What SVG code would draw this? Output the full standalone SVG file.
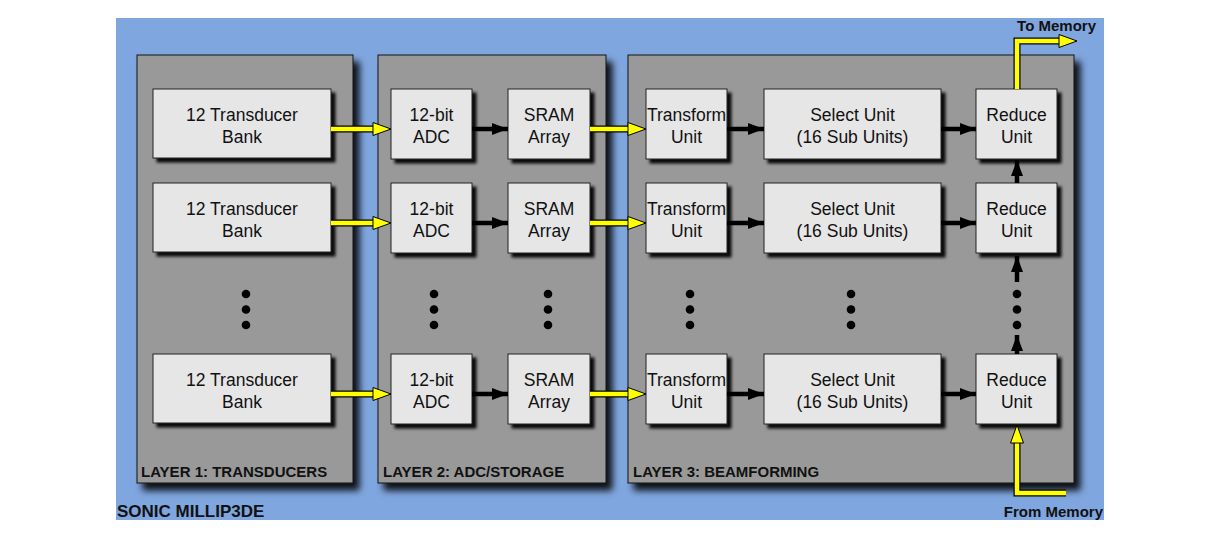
<svg xmlns="http://www.w3.org/2000/svg" width="1230" height="544" viewBox="0 0 1230 544">
<defs>
<filter id="pshadow" x="-10%" y="-10%" width="130%" height="130%">
<feDropShadow dx="6" dy="7" stdDeviation="3.5" flood-color="#000" flood-opacity="0.9"/>
</filter>
<filter id="bshadow" x="-10%" y="-10%" width="130%" height="130%">
<feDropShadow dx="4" dy="4" stdDeviation="1.5" flood-color="#000" flood-opacity="0.95"/>
</filter>
<marker id="ah" markerUnits="userSpaceOnUse" markerWidth="18" markerHeight="14" refX="16" refY="6" orient="auto">
<path d="M0,0 L16,6 L0,12 z" fill="#000"/>
</marker>
</defs>
<style>
.panel{fill:#999999;stroke:#111;stroke-width:1;filter:url(#pshadow)}
.box{fill:#e6e6e6;stroke:#222;stroke-width:1;filter:url(#bshadow)}
.t{font-family:"Liberation Sans",Arial,sans-serif;font-size:17.5px;fill:#111;text-anchor:middle}
.lbl{font-family:"Liberation Sans",Arial,sans-serif;font-size:15px;font-weight:bold;fill:#111}
.title{font-family:"Liberation Sans",Arial,sans-serif;font-size:17px;font-weight:bold;fill:#111}
.blk{stroke:#000;stroke-width:4.5;fill:none;marker-end:url(#ah)}
.yo{stroke:#000;stroke-width:7;fill:none;stroke-linejoin:miter}
.yi{stroke:#ffff00;stroke-width:4.5;fill:none;stroke-linejoin:miter}
.yh{fill:#ffff00;stroke:#000;stroke-width:1}
.dot{fill:#000}
</style>
<rect x="0" y="0" width="1230" height="544" fill="#fff"/>
<rect x="116" y="18" width="988" height="502" fill="#80a6df"/>

<g id="layer1"><rect class="panel" x="137" y="55" width="216" height="428"/><text class="lbl" x="141" y="477">LAYER 1: TRANSDUCERS</text></g>
<g id="layer2"><rect class="panel" x="378" y="55" width="228" height="428"/><text class="lbl" x="383" y="477">LAYER 2: ADC/STORAGE</text></g>
<g id="layer3"><rect class="panel" x="628" y="55" width="446" height="428"/><text class="lbl" x="633" y="477">LAYER 3: BEAMFORMING</text></g>
<g id="title"><text class="title" x="117" y="517">SONIC MILLIP3DE</text></g>

<g id="tb1"><rect class="box" x="153" y="89" width="178" height="69"/><text class="t" x="242" y="121">12 Transducer</text><text class="t" x="242" y="143">Bank</text></g>
<g id="tb2"><rect class="box" x="153" y="183" width="178" height="69"/><text class="t" x="242" y="215">12 Transducer</text><text class="t" x="242" y="237">Bank</text></g>
<g id="tb3"><rect class="box" x="153" y="354" width="178" height="69"/><text class="t" x="242" y="386">12 Transducer</text><text class="t" x="242" y="408">Bank</text></g>

<g id="adc1"><rect class="box" x="391" y="89" width="81" height="70"/><text class="t" x="431.5" y="121">12-bit</text><text class="t" x="431.5" y="143">ADC</text></g>
<g id="adc2"><rect class="box" x="391" y="183" width="81" height="70"/><text class="t" x="431.5" y="215">12-bit</text><text class="t" x="431.5" y="237">ADC</text></g>
<g id="adc3"><rect class="box" x="391" y="354" width="81" height="70"/><text class="t" x="431.5" y="386">12-bit</text><text class="t" x="431.5" y="408">ADC</text></g>

<g id="sram1"><rect class="box" x="508" y="89" width="82" height="70"/><text class="t" x="549" y="121">SRAM</text><text class="t" x="549" y="143">Array</text></g>
<g id="sram2"><rect class="box" x="508" y="183" width="82" height="70"/><text class="t" x="549" y="215">SRAM</text><text class="t" x="549" y="237">Array</text></g>
<g id="sram3"><rect class="box" x="508" y="354" width="82" height="70"/><text class="t" x="549" y="386">SRAM</text><text class="t" x="549" y="408">Array</text></g>

<g id="tf1"><rect class="box" x="646" y="89" width="81" height="70"/><text class="t" x="686.5" y="121">Transform</text><text class="t" x="686.5" y="143">Unit</text></g>
<g id="tf2"><rect class="box" x="646" y="183" width="81" height="70"/><text class="t" x="686.5" y="215">Transform</text><text class="t" x="686.5" y="237">Unit</text></g>
<g id="tf3"><rect class="box" x="646" y="354" width="81" height="70"/><text class="t" x="686.5" y="386">Transform</text><text class="t" x="686.5" y="408">Unit</text></g>

<g id="sel1"><rect class="box" x="764" y="89" width="177" height="70"/><text class="t" x="852.5" y="121">Select Unit</text><text class="t" x="852.5" y="143">(16 Sub Units)</text></g>
<g id="sel2"><rect class="box" x="764" y="183" width="177" height="70"/><text class="t" x="852.5" y="215">Select Unit</text><text class="t" x="852.5" y="237">(16 Sub Units)</text></g>
<g id="sel3"><rect class="box" x="764" y="354" width="177" height="70"/><text class="t" x="852.5" y="386">Select Unit</text><text class="t" x="852.5" y="408">(16 Sub Units)</text></g>

<g id="red1"><rect class="box" x="976" y="89" width="81" height="70"/><text class="t" x="1016.5" y="121">Reduce</text><text class="t" x="1016.5" y="143">Unit</text></g>
<g id="red2"><rect class="box" x="976" y="183" width="81" height="70"/><text class="t" x="1016.5" y="215">Reduce</text><text class="t" x="1016.5" y="237">Unit</text></g>
<g id="red3"><rect class="box" x="976" y="354" width="81" height="70"/><text class="t" x="1016.5" y="386">Reduce</text><text class="t" x="1016.5" y="408">Unit</text></g>

<g id="dots">
<circle class="dot" cx="246" cy="294" r="4.3"/><circle class="dot" cx="246" cy="309.5" r="4.3"/><circle class="dot" cx="246" cy="325" r="4.3"/>
<circle class="dot" cx="434" cy="294" r="4.3"/><circle class="dot" cx="434" cy="309.5" r="4.3"/><circle class="dot" cx="434" cy="325" r="4.3"/>
<circle class="dot" cx="548" cy="294" r="4.3"/><circle class="dot" cx="548" cy="309.5" r="4.3"/><circle class="dot" cx="548" cy="325" r="4.3"/>
<circle class="dot" cx="690" cy="294" r="4.3"/><circle class="dot" cx="690" cy="309.5" r="4.3"/><circle class="dot" cx="690" cy="325" r="4.3"/>
<circle class="dot" cx="851" cy="294" r="4.3"/><circle class="dot" cx="851" cy="309.5" r="4.3"/><circle class="dot" cx="851" cy="325" r="4.3"/>
<circle class="dot" cx="1017" cy="294" r="4.3"/><circle class="dot" cx="1017" cy="309.5" r="4.3"/><circle class="dot" cx="1017" cy="325" r="4.3"/>
</g>

<g id="connectors">
<line class="yo" x1="331" y1="129" x2="375" y2="129"/><line class="yi" x1="331" y1="129" x2="376" y2="129"/><polygon class="yh" points="373,122.5 391,129 373,135.5"/>
<line class="yo" x1="331" y1="223" x2="375" y2="223"/><line class="yi" x1="331" y1="223" x2="376" y2="223"/><polygon class="yh" points="373,216.5 391,223 373,229.5"/>
<line class="yo" x1="331" y1="394" x2="375" y2="394"/><line class="yi" x1="331" y1="394" x2="376" y2="394"/><polygon class="yh" points="373,387.5 391,394 373,400.5"/>
<line class="yo" x1="590" y1="129" x2="630" y2="129"/><line class="yi" x1="590" y1="129" x2="631" y2="129"/><polygon class="yh" points="628,122.5 646,129 628,135.5"/>
<line class="yo" x1="590" y1="223" x2="630" y2="223"/><line class="yi" x1="590" y1="223" x2="631" y2="223"/><polygon class="yh" points="628,216.5 646,223 628,229.5"/>
<line class="yo" x1="590" y1="394" x2="630" y2="394"/><line class="yi" x1="590" y1="394" x2="631" y2="394"/><polygon class="yh" points="628,387.5 646,394 628,400.5"/>
<line class="blk" x1="472" y1="129" x2="508" y2="129"/>
<line class="blk" x1="472" y1="223" x2="508" y2="223"/>
<line class="blk" x1="472" y1="394" x2="508" y2="394"/>
<line class="blk" x1="727" y1="129" x2="764" y2="129"/>
<line class="blk" x1="727" y1="223" x2="764" y2="223"/>
<line class="blk" x1="727" y1="394" x2="764" y2="394"/>
<line class="blk" x1="941" y1="129" x2="976" y2="129"/>
<line class="blk" x1="941" y1="223" x2="976" y2="223"/>
<line class="blk" x1="941" y1="394" x2="976" y2="394"/>
<line class="blk" x1="1017" y1="183" x2="1017" y2="160"/>
<line class="blk" x1="1017" y1="282" x2="1017" y2="256"/>
<line class="blk" x1="1017" y1="354" x2="1017" y2="335"/>
<polyline class="yo" points="1017,89 1017,41 1060,41"/><polyline class="yi" points="1017,89 1017,41 1061,41"/><polygon class="yh" points="1059,34.5 1077,41 1059,47.5"/>
<polyline class="yo" points="1066,493 1017,493 1017,441"/><polyline class="yi" points="1066,493 1017,493 1017,440"/><polygon class="yh" points="1010.5,443 1017,425 1023.5,443"/>
</g>
<g id="memlabels">
<text class="lbl" x="1096" y="31" text-anchor="end">To Memory</text>
<text class="lbl" x="1103" y="517" text-anchor="end">From Memory</text>
</g>
</svg>
